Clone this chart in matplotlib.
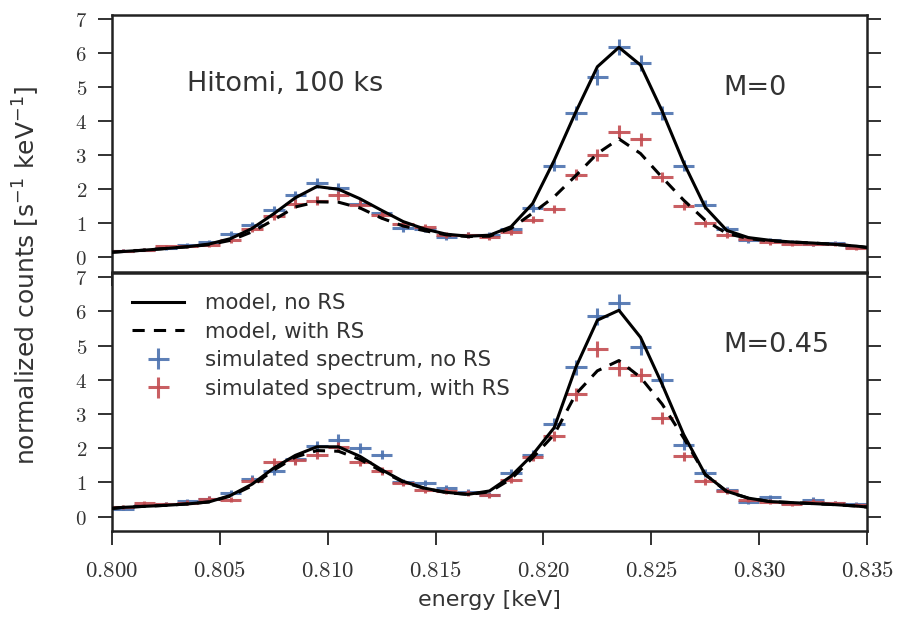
import numpy as np
import matplotlib
matplotlib.use("Agg")
import matplotlib.pyplot as plt
from matplotlib.ticker import FuncFormatter

# spectrum binned at 1 eV, 100 ks exposure
EXPOSURE = 100e3   # s
BIN = 0.001        # keV

energy = np.round(np.arange(0.8005, 0.835, BIN), 4)
model_energy = np.concatenate([[0.800], energy, [0.835]])

# ---- M = 0 panel ----
top_sim_noRS = [0.20, 0.22, 0.28, 0.35, 0.45, 0.68, 0.94, 1.38, 1.82, 2.17,
                2.03, 1.58, 1.29, 0.85, 0.82, 0.59, 0.65, 0.65, 0.82, 1.46,
                2.69, 4.23, 5.30, 6.18, 5.72, 4.25, 2.69, 1.55, 0.84, 0.50,
                0.50, 0.45, 0.38, 0.42, 0.30]
top_sim_RS = [0.19, 0.22, 0.32, 0.32, 0.35, 0.50, 0.82, 1.20, 1.58, 1.66,
              1.82, 1.55, 1.24, 0.98, 0.88, 0.65, 0.66, 0.60, 0.75, 1.11,
              1.41, 2.43, 3.00, 3.69, 3.47, 2.36, 1.50, 1.00, 0.65, 0.55,
              0.44, 0.40, 0.38, 0.38, 0.28]
top_model_noRS = [0.15, 0.17, 0.21, 0.26, 0.31, 0.39, 0.55, 0.85, 1.28, 1.75,
                  2.08, 2.00, 1.72, 1.38, 1.05, 0.83, 0.68, 0.62, 0.65, 0.90,
                  1.58, 2.85, 4.27, 5.60, 6.17, 5.65, 4.30, 2.78, 1.47, 0.79,
                  0.58, 0.50, 0.45, 0.42, 0.38, 0.33, 0.29]
top_model_RS = [0.15, 0.17, 0.21, 0.26, 0.31, 0.37, 0.50, 0.75, 1.10, 1.48,
                1.63, 1.62, 1.45, 1.15, 0.92, 0.78, 0.66, 0.61, 0.62, 0.85,
                1.30, 1.78, 2.40, 3.05, 3.48, 3.05, 2.35, 1.68, 1.09, 0.70,
                0.55, 0.48, 0.45, 0.42, 0.38, 0.33, 0.29]

# ---- M = 0.45 panel ----
bot_sim_noRS = [0.23, 0.34, 0.36, 0.46, 0.52, 0.69, 1.11, 1.32, 1.67, 2.06,
                2.25, 2.00, 1.81, 1.01, 0.98, 0.83, 0.71, 0.64, 1.27, 1.80,
                2.72, 4.36, 5.85, 6.25, 4.95, 3.99, 2.09, 1.27, 0.78, 0.44,
                0.56, 0.39, 0.49, 0.39, 0.37]
bot_sim_RS = [0.29, 0.39, 0.36, 0.41, 0.52, 0.49, 1.05, 1.60, 1.64, 1.81,
              2.03, 1.60, 1.34, 0.98, 0.78, 0.74, 0.69, 0.62, 1.08, 1.75,
              2.35, 3.58, 4.90, 4.33, 4.14, 2.89, 1.76, 1.03, 0.75, 0.50,
              0.44, 0.36, 0.44, 0.39, 0.34]
bot_model_noRS = [0.24, 0.27, 0.30, 0.33, 0.37, 0.43, 0.62, 0.95, 1.42, 1.79,
                  2.04, 2.04, 1.76, 1.37, 1.03, 0.83, 0.71, 0.65, 0.75, 1.18,
                  1.81, 2.60, 4.36, 5.74, 6.03, 5.24, 3.87, 2.40, 1.23, 0.74,
                  0.54, 0.44, 0.41, 0.38, 0.35, 0.31, 0.28]
bot_model_RS = [0.24, 0.27, 0.30, 0.33, 0.37, 0.43, 0.60, 0.90, 1.36, 1.74,
                1.93, 1.91, 1.67, 1.33, 1.01, 0.82, 0.70, 0.65, 0.72, 1.10,
                1.72, 2.40, 3.58, 4.26, 4.56, 4.07, 3.29, 2.30, 1.23, 0.73,
                0.54, 0.44, 0.41, 0.38, 0.35, 0.31, 0.28]

xticks = [0.800, 0.805, 0.810, 0.815, 0.820, 0.825, 0.830, 0.835]
yticks = [0, 1, 2, 3, 4, 5, 6, 7]

BLUE = "#4C72B0"
RED = "#C44E52"
TEXT = "#333333"

plt.rcParams["font.family"] = "DejaVu Sans"
plt.rcParams["mathtext.fontset"] = "cm"
plt.rcParams["axes.edgecolor"] = "#222222"
plt.rcParams["axes.linewidth"] = 1.8


def poisson_err(vals):
    # counts per bin -> 1 sigma error in s^-1 keV^-1
    v = np.asarray(vals)
    return np.sqrt(v * EXPOSURE * BIN) / (EXPOSURE * BIN)


def draw_panel(ax, sim_noRS, sim_RS, mod_noRS, mod_RS):
    h1 = ax.errorbar(energy, sim_noRS, xerr=BIN / 2, yerr=poisson_err(sim_noRS),
                     fmt="none", ecolor=BLUE, elinewidth=2.2, capsize=0, alpha=0.9,
                     zorder=2, label="simulated spectrum, no RS")
    h2 = ax.errorbar(energy, sim_RS, xerr=BIN / 2, yerr=poisson_err(sim_RS),
                     fmt="none", ecolor=RED, elinewidth=2.2, capsize=0, alpha=0.9,
                     zorder=2, label="simulated spectrum, with RS")
    l1, = ax.plot(model_energy, mod_noRS, color="black", lw=2.2, zorder=3,
                  label="model, no RS")
    l2, = ax.plot(model_energy, mod_RS, color="black", lw=2.2, ls=(0, (4, 3)),
                  zorder=3, label="model, with RS")
    ax.set_xlim(0.800, 0.835)
    ax.set_ylim(-0.42, 7.12)
    ax.set_xticks(xticks)
    ax.set_yticks(yticks)
    ax.xaxis.set_major_formatter(FuncFormatter(lambda v, p: f"${v:.3f}$"))
    ax.yaxis.set_major_formatter(FuncFormatter(lambda v, p: f"${v:.0f}$"))
    ax.tick_params(axis="both", direction="out", length=10, width=1.3,
                   colors="#222222", labelcolor=TEXT)
    ax.tick_params(axis="y", right=True, left=True, pad=8, labelsize=15)
    ax.tick_params(axis="x", top=False, pad=10, labelsize=16.5)
    return [l1, l2, h1, h2]


fig = plt.figure(figsize=(8.98, 6.18), dpi=100)
ax_top = fig.add_axes([0.1247, 0.5605, 0.8408, 0.4152])
ax_bot = fig.add_axes([0.1247, 0.1408, 0.8408, 0.4175])

draw_panel(ax_top, top_sim_noRS, top_sim_RS, top_model_noRS, top_model_RS)
handles = draw_panel(ax_bot, bot_sim_noRS, bot_sim_RS, bot_model_noRS, bot_model_RS)
ax_top.tick_params(axis="x", labelbottom=False)

ax_top.text(0.10, 0.73, "Hitomi, 100 ks", transform=ax_top.transAxes,
            fontsize=19.5, color=TEXT, va="center", ha="left")
ax_top.text(0.81, 0.715, "M=0", transform=ax_top.transAxes,
            fontsize=19.5, color=TEXT, va="center", ha="left")
ax_bot.text(0.81, 0.72, "M=0.45", transform=ax_bot.transAxes,
            fontsize=19.5, color=TEXT, va="center", ha="left")

leg = ax_bot.legend(handles=handles, loc="upper left", frameon=False,
                    fontsize=15.3, handlelength=2.45, handletextpad=1.0,
                    labelspacing=0.4, borderaxespad=0.55, borderpad=0.4)
for t in leg.get_texts():
    t.set_color(TEXT)

ax_bot.set_xlabel("energy [keV]", fontsize=16, color=TEXT, labelpad=6)
fig.text(0.03, 0.555, r"normalized counts [s$^{-1}$ keV$^{-1}$]", rotation=90,
         fontsize=18, color=TEXT, va="center", ha="center",
         math_fontfamily="dejavusans")

fig.savefig("out.png", dpi=100)
